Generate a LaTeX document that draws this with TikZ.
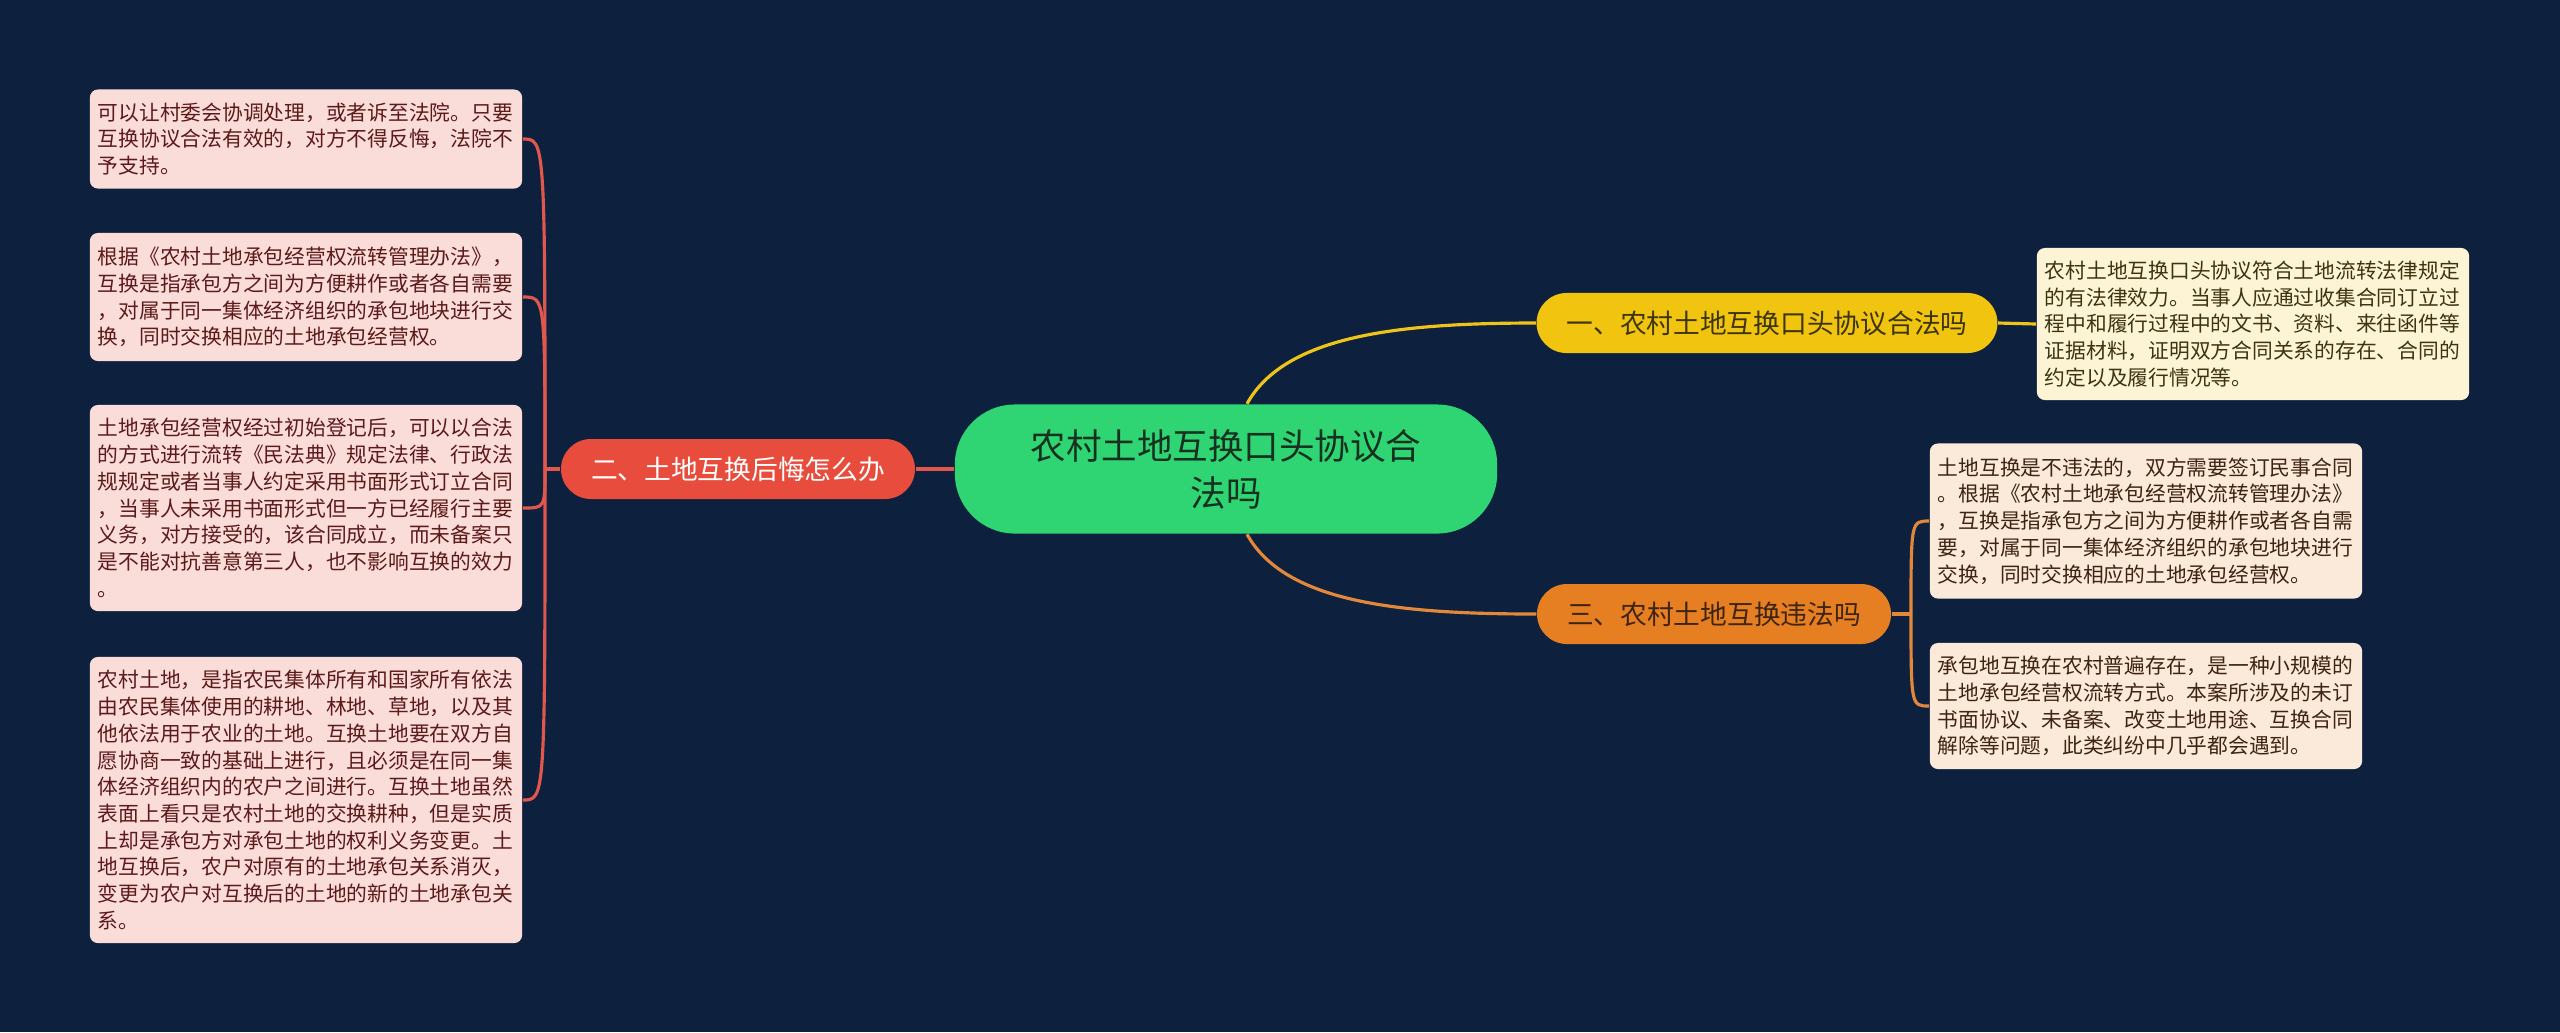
\documentclass[tikz,border=0pt]{standalone}
\usepackage{fontspec}
\setmainfont{Noto Sans CJK SC}
\usetikzlibrary{calc}

\definecolor{bgnavy}{HTML}{0D213E}
\definecolor{hubgreen}{HTML}{2FD573}
\definecolor{hubtext}{HTML}{17301F}
\definecolor{topicyellow}{HTML}{F1C40F}
\definecolor{topicorange}{HTML}{E67E22}
\definecolor{topicred}{HTML}{E74C3C}
\definecolor{lineyellow}{HTML}{EFC41A}
\definecolor{lineorange}{HTML}{E3883B}
\definecolor{linered}{HTML}{E0574B}
\definecolor{pinkleaf}{HTML}{FADCD9}
\definecolor{pinktext}{HTML}{5C1A1A}
\definecolor{creamleaf}{HTML}{FCF4D4}
\definecolor{creamtext}{HTML}{3D3410}
\definecolor{peachleaf}{HTML}{FBE9D9}
\definecolor{peachtext}{HTML}{3E2412}

\begin{document}
\begin{tikzpicture}[x=0.01cm,y=-0.01cm,
  hub/.style={fill=hubgreen,text=hubtext,rounded corners=0.6cm,minimum width=5.42cm,
    minimum height=1.29cm,align=center,inner sep=0pt,font=\fontsize{10.1}{13.4}\selectfont},
  topic/.style={rounded corners=0.3cm,minimum height=0.6cm,inner xsep=0.3cm,inner ysep=0pt,
    font=\fontsize{7.6}{9}\selectfont},
  leaf/.style={rounded corners=0.08cm,text width=4.16cm,inner xsep=0.08cm,inner ysep=0pt,
    align=left,font=\fontsize{5.9}{7.6}\selectfont},
  link/.style={line width=0.9pt}]
  \fill[bgnavy] (0,0) rectangle (2560,1032);
  \useasboundingbox (0,0) rectangle (2560,1032);

  % centre and topics
  \node[hub] (hub) at (1226,469) {农村土地互换口头协议合\\法吗};
  \node[topic,fill=topicyellow,text=creamtext] (b1) at (1767,323) {一、农村土地互换口头协议合法吗};
  \node[topic,fill=topicred,text=white] (b2) at (738,469) {二、土地互换后悔怎么办};
  \node[topic,fill=topicorange,text=peachtext] (b3) at (1714,614) {三、农村土地互换违法吗};

  % left leaves
  \node[leaf,fill=pinkleaf,text=pinktext,minimum height=0.99cm] (l1) at (306,139)
    {可以让村委会协调处理，或者诉至法院。只要\\互换协议合法有效的，对方不得反悔，法院不\\予支持。};
  \node[leaf,fill=pinkleaf,text=pinktext,minimum height=1.28cm] (l2) at (306,297)
    {根据《农村土地承包经营权流转管理办法》，\\互换是指承包方之间为方便耕作或者各自需要\\，对属于同一集体经济组织的承包地块进行交\\换，同时交换相应的土地承包经营权。};
  \node[leaf,fill=pinkleaf,text=pinktext,minimum height=2.06cm] (l3) at (306,508)
    {土地承包经营权经过初始登记后，可以以合法\\的方式进行流转《民法典》规定法律、行政法\\规规定或者当事人约定采用书面形式订立合同\\，当事人未采用书面形式但一方已经履行主要\\义务，对方接受的，该合同成立，而未备案只\\是不能对抗善意第三人，也不影响互换的效力\\。};
  \node[leaf,fill=pinkleaf,text=pinktext,minimum height=2.86cm] (l4) at (306,800)
    {农村土地，是指农民集体所有和国家所有依法\\由农民集体使用的耕地、林地、草地，以及其\\他依法用于农业的土地。互换土地要在双方自\\愿协商一致的基础上进行，且必须是在同一集\\体经济组织内的农户之间进行。互换土地虽然\\表面上看只是农村土地的交换耕种，但是实质\\上却是承包方对承包土地的权利义务变更。土\\地互换后，农户对原有的土地承包关系消灭，\\变更为农户对互换后的土地的新的土地承包关\\系。};

  % right leaves
  \node[leaf,fill=creamleaf,text=creamtext,minimum height=1.52cm] (r1) at (2253,324)
    {农村土地互换口头协议符合土地流转法律规定\\的有法律效力。当事人应通过收集合同订立过\\程中和履行过程中的文书、资料、来往函件等\\证据材料，证明双方合同关系的存在、合同的\\约定以及履行情况等。};
  \node[leaf,fill=peachleaf,text=peachtext,minimum height=1.55cm] (r2) at (2146,521)
    {土地互换是不违法的，双方需要签订民事合同\\。根据《农村土地承包经营权流转管理办法》\\，互换是指承包方之间为方便耕作或者各自需\\要，对属于同一集体经济组织的承包地块进行\\交换，同时交换相应的土地承包经营权。};
  \node[leaf,fill=peachleaf,text=peachtext,minimum height=1.26cm] (r3) at (2146,706)
    {承包地互换在农村普遍存在，是一种小规模的\\土地承包经营权流转方式。本案所涉及的未订\\书面协议、未备案、改变土地用途、互换合同\\解除等问题，此类纠纷中几乎都会遇到。};

  % connectors
  \draw[link,lineyellow] ([xshift=0.21cm]hub.north) .. controls (1285,335) and (1400,323) .. (b1.west);
  \draw[link,lineorange] ([xshift=0.21cm]hub.south) .. controls (1285,603) and (1400,614) .. (b3.west);
  \draw[link,linered] (hub.west) -- (b2.east);
  \draw[link,lineyellow] (b1.east) -- (r1.west);

  \coordinate (rj) at (1911,614);
  \draw[link,lineorange] (b3.east) -- (rj);
  \foreach \n in {r2,r3}
    \draw[link,lineorange] (rj) .. controls (rj |- \n.west) .. (\n.west);

  \coordinate (lj) at (545,469);
  \draw[link,linered] (b2.west) -- (lj);
  \foreach \n in {l1,l2,l3,l4}
    \draw[link,linered] (lj) .. controls (lj |- \n.east) .. (\n.east);
\end{tikzpicture}
\end{document}
